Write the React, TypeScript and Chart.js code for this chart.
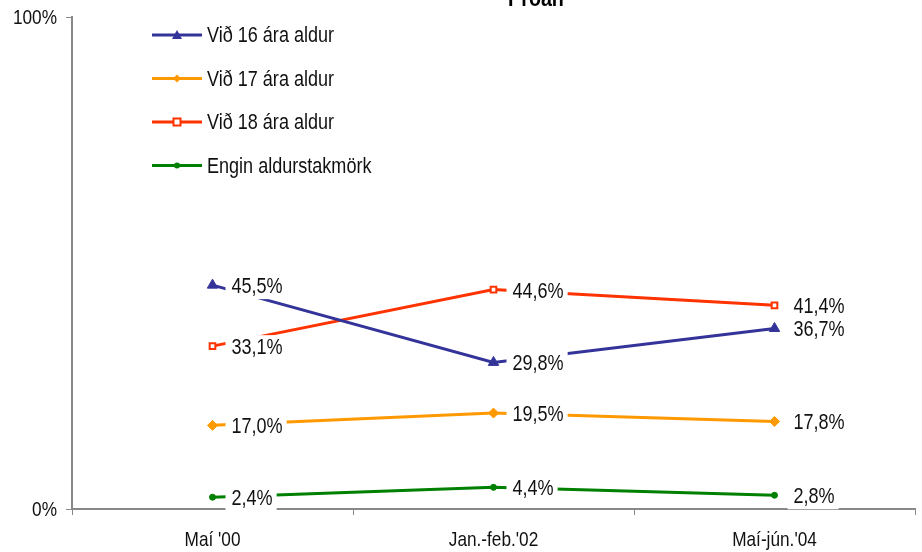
import React, { useEffect, useRef } from "react";
import { Chart, registerables } from "chart.js";

Chart.register(...registerables);

const title = "Próan";
const categories = ["Maí '00", "Jan.-feb.'02", "Maí-jún.'04"];
const seriesNames = ["Við 16 ára aldur", "Við 17 ára aldur", "Við 18 ára aldur", "Engin aldurstakmörk"];
const age16 = [45.5, 29.8, 36.7];
const age17 = [17.0, 19.5, 17.8];
const age18 = [33.1, 44.6, 41.4];
const noLimit = [2.4, 4.4, 2.8];
const yTicks = [0, 100];

const FONT = "'Liberation Sans', Arial, sans-serif";
const SX = 0.82;

const colors = ["#333399", "#FF9900", "#FF3300", "#008000"];
const pointStyles = ["triangle", "rectRot", "rect", "circle"];
const pointRadii = [6, 5, 4, 3];

function fmt(v: number) {
  return v.toFixed(1).replace(".", ",") + "%";
}

// draw horizontally condensed text
function narrowText(ctx: any, txt: string, x: number, y: number, align: string, size: number, bold = false) {
  ctx.save();
  ctx.font = (bold ? "bold " : "") + size + "px " + FONT;
  const w = ctx.measureText(txt).width * SX;
  let left = x;
  if (align === "center") left = x - w / 2;
  else if (align === "right") left = x - w;
  ctx.translate(left, y);
  ctx.scale(SX, 1);
  ctx.textAlign = "left";
  ctx.fillText(txt, 0, 0);
  ctx.restore();
  return w;
}

function textW(ctx: any, txt: string, size: number) {
  ctx.save();
  ctx.font = size + "px " + FONT;
  const w = ctx.measureText(txt).width * SX;
  ctx.restore();
  return w;
}

const labelPlugin = {
  id: "valueLabels",
  afterDatasetsDraw(chart: any) {
    const ctx = chart.ctx;
    ctx.save();
    ctx.textBaseline = "middle";
    chart.data.datasets.forEach((ds: any, i: number) => {
      const meta = chart.getDatasetMeta(i);
      meta.data.forEach((pt: any, j: number) => {
        const txt = fmt(ds.data[j]);
        const w = textW(ctx, txt, 22);
        const x = pt.x + 19;
        const y = pt.y + 1;
        ctx.fillStyle = "#ffffff";
        ctx.fillRect(x - 6, y - 12, w + 10, 25);
        ctx.fillStyle = "#111111";
        narrowText(ctx, txt, x, y + 1, "left", 22);
      });
    });
    ctx.restore();
  },
};

function drawMarker(ctx: any, style: string, color: string, x: number, y: number) {
  ctx.save();
  ctx.fillStyle = color;
  ctx.strokeStyle = color;
  ctx.beginPath();
  if (style === "triangle") {
    ctx.moveTo(x, y - 5);
    ctx.lineTo(x + 5, y + 4);
    ctx.lineTo(x - 5, y + 4);
    ctx.closePath();
    ctx.fill();
  } else if (style === "rectRot") {
    ctx.moveTo(x, y - 4);
    ctx.lineTo(x + 4, y);
    ctx.lineTo(x, y + 4);
    ctx.lineTo(x - 4, y);
    ctx.closePath();
    ctx.fill();
  } else if (style === "rect") {
    ctx.fillStyle = "#ffffff";
    ctx.lineWidth = 2;
    ctx.rect(x - 3.5, y - 3.5, 7, 7);
    ctx.fill();
    ctx.stroke();
  } else {
    ctx.arc(x, y, 3, 0, Math.PI * 2);
    ctx.fill();
  }
  ctx.restore();
}

const legendPlugin = {
  id: "customLegend",
  afterDraw(chart: any) {
    const ctx = chart.ctx;
    ctx.save();
    chart.data.datasets.forEach((ds: any, i: number) => {
      const y = 35 + i * 43.5;
      ctx.strokeStyle = ds.borderColor;
      ctx.lineWidth = 3;
      ctx.beginPath();
      ctx.moveTo(152, y);
      ctx.lineTo(202, y);
      ctx.stroke();
      drawMarker(ctx, ds.pointStyle, ds.borderColor, 177, y);
      ctx.fillStyle = "#111111";
      ctx.textBaseline = "middle";
      narrowText(ctx, ds.label, 207, y + 1, "left", 22);
    });
    // axis tick labels
    ctx.fillStyle = "#111111";
    ctx.textBaseline = "middle";
    const xs = chart.scales.x;
    categories.forEach((c, i) => {
      narrowText(ctx, c, xs.getPixelForValue(i), 540, "center", 21);
    });
    const ys = chart.scales.y;
    yTicks.forEach((v) => {
      narrowText(ctx, v + "%", 57, ys.getPixelForValue(v) + 1, "right", 21);
    });
    // title (clipped at top)
    ctx.fillStyle = "#000000";
    ctx.textBaseline = "alphabetic";
    narrowText(ctx, title, 536, 6, "center", 24, true);
    ctx.restore();
  },
};

export default function App() {
  const ref = useRef<HTMLCanvasElement>(null);
  useEffect(() => {
    document.body.style.margin = "0";
    const data = [age16, age17, age18, noLimit];
    const chart = new Chart(ref.current!, {
      type: "line",
      data: {
        labels: categories,
        datasets: data.map((d, i) => ({
          label: seriesNames[i],
          data: d,
          borderColor: colors[i],
          backgroundColor: i === 2 ? "#ffffff" : colors[i],
          pointBackgroundColor: i === 2 ? "#ffffff" : colors[i],
          pointBorderColor: colors[i],
          pointBorderWidth: i === 2 ? 2 : 1,
          pointStyle: pointStyles[i],
          pointRadius: pointRadii[i],
          borderWidth: 3,
          tension: 0,
        })),
      },
      options: {
        animation: false,
        responsive: false,
        layout: { padding: { top: 17, right: 7, left: 0, bottom: 0 } },
        plugins: {
          legend: { display: false },
          tooltip: { enabled: false },
          title: { display: false },
        },
        scales: {
          x: {
            type: "category",
            offset: true,
            grid: {
              display: true,
              drawOnChartArea: false,
              drawTicks: true,
              tickLength: 6,
              color: "#888888",
              offset: true,
            },
            border: { display: true, color: "#888888", width: 2 },
            ticks: { display: false },
            afterFit(scale: any) {
              scale.height = 43;
            },
          },
          y: {
            min: 0,
            max: 100,
            afterBuildTicks(scale: any) {
              scale.ticks = yTicks.map((v) => ({ value: v }));
            },
            grid: {
              display: true,
              drawOnChartArea: false,
              drawTicks: true,
              tickLength: 6,
              color: "#888888",
            },
            border: { display: true, color: "#888888", width: 2 },
            ticks: { display: false },
            afterFit(scale: any) {
              scale.width = 72;
            },
          },
        },
      },
      plugins: [labelPlugin, legendPlugin],
    });
    return () => chart.destroy();
  }, []);
  return <canvas ref={ref} width={922} height={552} style={{ display: "block" }} />;
}
